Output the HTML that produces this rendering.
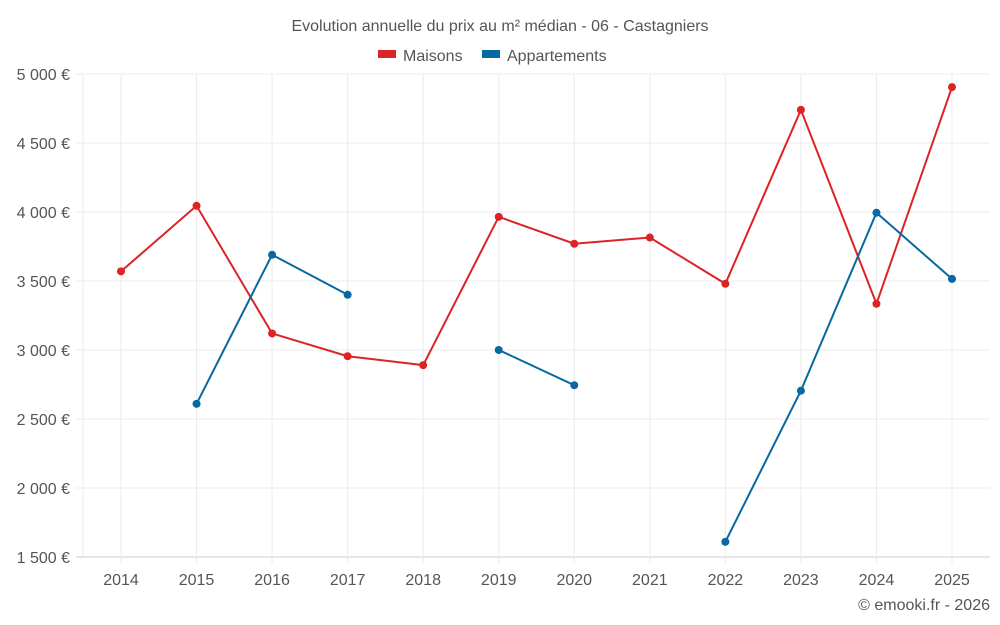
<!DOCTYPE html>
<html><head><meta charset="utf-8"><style>
body{margin:0;background:#fff;}
svg{display:block;font-family:"Liberation Sans",sans-serif;}
</style></head><body>
<svg id="c" width="1000" height="625">
<text x="500" y="31" text-anchor="middle" font-size="16" fill="#555">Evolution annuelle du prix au m² médian - 06 - Castagniers</text>
<g>
<g><rect x="378" y="50" width="18" height="8" fill="#dc2326"/><text x="403" y="61" font-size="16" fill="#555">Maisons</text></g>
<g><rect x="482" y="50" width="18" height="8" fill="#0868a0"/><text x="507" y="61" font-size="16" fill="#555">Appartements</text></g>
</g>
<g id="grid"></g><g id="axes"></g><g id="series"></g>
<text x="990" y="610" text-anchor="end" font-size="16" fill="#555">© emooki.fr - 2026</text>
</svg>
<script>
const years=[2014,2015,2016,2017,2018,2019,2020,2021,2022,2023,2024,2025];
const maisons=[3570,4045,3120,2955,2890,3965,3770,3815,3480,4740,3335,4905];
const appartements=[null,2610,3690,3400,null,3000,2745,null,1610,2705,3995,3515];
const yTicks=[1500,2000,2500,3000,3500,4000,4500,5000];
const yTickLabels=["1 500 €","2 000 €","2 500 €","3 000 €","3 500 €","4 000 €","4 500 €","5 000 €"];
const NS="http://www.w3.org/2000/svg";
const L=83,R=990,T=74,B=557;
const x=i=>121+i*(952-121)/11;
const y=v=>B-(v-1500)/(5000-1500)*(B-T);
function mk(tag,attrs,parent){const e=document.createElementNS(NS,tag);for(const k in attrs)e.setAttribute(k,attrs[k]);document.getElementById(parent).appendChild(e);return e;}
yTicks.forEach((v,i)=>{
  const g=mk('line',{x1:76,x2:R,y1:y(v),y2:y(v),stroke:i==0?'#ccc':'#ebebeb','stroke-width':1},'grid');
  
  
  const t=mk('text',{x:70,y:y(v)+6,'text-anchor':'end','font-size':16,fill:'#555'},'axes');
  t.textContent=yTickLabels[i];
  
  
});
const la=mk('line',{x1:L,x2:L,y1:T,y2:B,stroke:'#ebebeb'},'grid');


years.forEach((yr,i)=>{
  const g=mk('line',{x1:x(i),x2:x(i),y1:T,y2:B+7,stroke:'#ebebeb'},'grid');
  
  
  const t=mk('text',{x:x(i),y:585,'text-anchor':'middle','font-size':16,fill:'#555'},'axes');
  t.textContent=yr;
  
  
});
function series(vals,color,name){
  let seg=[];
  const segs=[];
  vals.forEach((v,i)=>{if(v==null){if(seg.length)segs.push(seg);seg=[];}else seg.push([x(i),y(v)]);});
  if(seg.length)segs.push(seg);
  segs.forEach(s=>{
    if(s.length>1){
      const p=mk('polyline',{points:s.map(q=>q.join(',')).join(' '),fill:'none',stroke:color,'stroke-width':2},'series');
      
      
    }
  });
  vals.forEach((v,i)=>{if(v==null)return;
    const c=mk('circle',{cx:x(i),cy:y(v),r:4,fill:color},'series');
    
    
  });
}
series(maisons,'#dc2326','maisons');
series(appartements,'#0868a0','appartements');
</script>
</body></html>
